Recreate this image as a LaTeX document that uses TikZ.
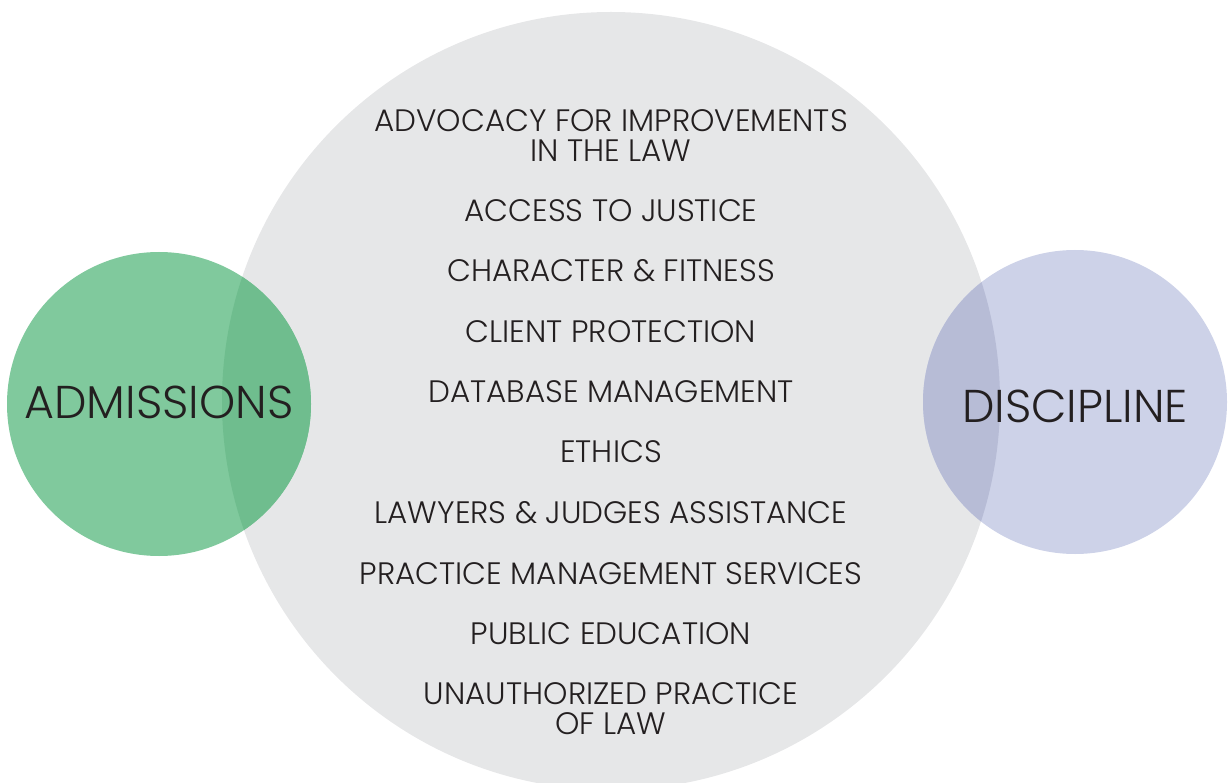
\documentclass[tikz,border=0pt]{standalone}
\usepackage{fontspec}
\setmainfont{Poppins}[UprightFont=* Light]
\definecolor{greyc}{HTML}{E6E7E8}
\definecolor{greenc}{HTML}{80C99D}
\definecolor{greenov}{HTML}{6FBD8E}
\definecolor{purplec}{HTML}{CDD2E8}
\definecolor{purpleov}{HTML}{B7BCD6}
\definecolor{txt}{HTML}{231F20}
\tikzset{
  item/.style={anchor=base, text=txt, font=\fontsize{31}{31}\selectfont, inner sep=0pt},
  big/.style={anchor=base, text=txt, font=\fontsize{46}{46}\selectfont, inner sep=0pt}
}
\begin{document}
\begin{tikzpicture}[x=1pt,y=-1pt]
\useasboundingbox (0,0) rectangle (1228,783);
\fill[greyc] (611,401) circle (389);
\fill[greenc] (159,404) circle (152);
\fill[purplec] (1075,402) circle (152);
\begin{scope}
  \clip (611,401) circle (389);
  \fill[greenov] (159,404) circle (152);
  \fill[purpleov] (1075,402) circle (152);
\end{scope}
\node[big] (adm) at (159,418) {ADMISSIONS};
\node[big] (dis) at (1075,422) {DISCIPLINE};
\node[item] (l1) at (611,132) {ADVOCACY FOR IMPROVEMENTS};
\node[item] (l2) at (611,162) {IN THE LAW};
\node[item] (l3) at (611,222) {ACCESS TO JUSTICE};
\node[item] (l4) at (611,282) {CHARACTER \& FITNESS};
\node[item] (l5) at (611,342) {CLIENT PROTECTION};
\node[item] (l6) at (611,402) {DATABASE MANAGEMENT};
\node[item] (l7) at (611,462) {ETHICS};
\node[item] (l8) at (611,523) {LAWYERS \& JUDGES ASSISTANCE};
\node[item] (l9) at (611,584) {PRACTICE MANAGEMENT SERVICES};
\node[item] (l10) at (611,644) {PUBLIC EDUCATION};
\node[item] (l11) at (611,704) {UNAUTHORIZED PRACTICE};
\node[item] (l12) at (611,734) {OF LAW};
\end{tikzpicture}
\end{document}
